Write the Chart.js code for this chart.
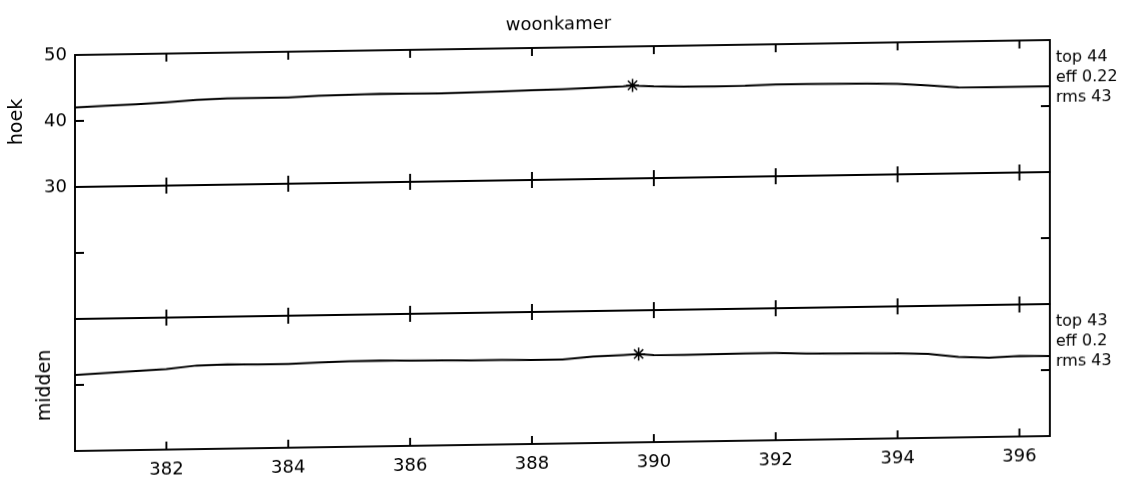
<!DOCTYPE html>
<html>
<head>
<meta charset="utf-8">
<script src="https://cdn.jsdelivr.net/npm/chart.js@4/dist/chart.umd.min.js"></script>
<style>
  html, body { margin: 0; padding: 0; background: #fff; overflow: hidden; }
  /* the plotter sheet sits slightly askew */
  #wrap { width: 1124px; height: 479px; transform: skewY(-0.88deg); transform-origin: 75px 0; }
</style>
</head>
<body>
<div id="wrap"><canvas id="woonkamer" width="1124" height="479"></canvas></div>
<script>
var FONT = 'DejaVu Sans';

var times = [
  380.5, 381, 381.5, 382, 382.5, 383, 383.5, 384, 384.5, 385, 385.5,
  386, 386.5, 387, 387.5, 388, 388.5, 389, 389.5, 389.65, 389.75, 390,
  390.5, 391, 391.5, 392, 392.5, 393, 393.5, 394, 394.5, 395, 395.5,
  396, 396.5
];
var hoekValues = [
  42.06, 42.24, 42.37, 42.6, 42.9, 43.08, 43.08, 43.08, 43.25, 43.33, 43.42,
  43.38, 43.34, 43.42, 43.5, 43.6, 43.66, 43.82, 43.98, 44.1, 44.02, 43.9,
  43.79, 43.76, 43.77, 43.92, 43.92, 43.86, 43.82, 43.71, 43.42, 43.04, 43.0,
  43.0, 42.98
];
var middenValues = [
  41.5, 41.74, 41.98, 42.2, 42.67, 42.76, 42.7, 42.68, 42.83, 42.95, 42.98,
  42.9, 42.86, 42.82, 42.79, 42.73, 42.73, 43.1, 43.27, 43.33, 43.38, 43.2,
  43.15, 43.17, 43.21, 43.21, 43.06, 43.0, 42.95, 42.88, 42.71, 42.18, 42.0,
  42.2, 42.12
];
var hoekEff = 0.22;
var middenEff = 0.2;

var xTicks = [382, 384, 386, 388, 390, 392, 394, 396];
var hoekTicks = [30, 40, 50];
var middenTicks = [30, 40, 50];
var midTicks = [0, 1, 2];

function toPoints(values) {
  return times.map(function (t, i) { return { x: t, y: values[i] }; });
}

function peakPoint(values) {
  var best = 0;
  values.forEach(function (v, i) { if (v > values[best]) best = i; });
  return [{ x: times[best], y: values[best] }];
}

function rms(values) {
  var sum = values.reduce(function (s, v) { return s + v * v; }, 0);
  return Math.sqrt(sum / values.length);
}

function notesFor(values, eff) {
  return [
    'top ' + Math.round(Math.max.apply(null, values)),
    'eff ' + eff,
    'rms ' + Math.round(rms(values))
  ];
}

function fixedTicks(list) {
  return function (scale) {
    scale.ticks = list.map(function (v) { return { value: v }; });
  };
}

function panelScale(min, max, list, extra) {
  var s = {
    type: 'linear',
    position: 'left',
    stack: 'panels',
    stackWeight: 1,
    min: min,
    max: max,
    afterBuildTicks: fixedTicks(list),
    afterFit: function (scale) { scale.width = 75; },
    grid: { display: false, drawTicks: false },
    border: { display: false },
    ticks: { display: false }
  };
  return Object.assign(s, extra || {});
}

// boxes, inward tick marks and the stats next to each panel
var panelFrame = {
  id: 'panelFrame',
  afterDatasetsDraw: function (chart) {
    var ctx = chart.ctx;
    var area = chart.chartArea;
    var x = chart.scales.x;
    var notes = { hoek: notesFor(hoekValues, hoekEff), midden: notesFor(middenValues, middenEff) };
    ctx.save();
    ctx.strokeStyle = '#000';
    ctx.lineWidth = 1.9;
    ['hoek', 'mid', 'midden'].forEach(function (id) {
      var s = chart.scales[id];
      ctx.strokeRect(area.left, s.top, area.right - area.left, s.bottom - s.top);
      ctx.beginPath();
      x.ticks.forEach(function (t) {
        var px = x.getPixelForValue(t.value);
        ctx.moveTo(px, s.top); ctx.lineTo(px, s.top + 8);
        ctx.moveTo(px, s.bottom); ctx.lineTo(px, s.bottom - 8);
      });
      s.ticks.forEach(function (t) {
        if (t.value === s.min || t.value === s.max) return;
        var py = s.getPixelForValue(t.value);
        ctx.moveTo(area.left, py); ctx.lineTo(area.left + 9, py);
        ctx.moveTo(area.right, py); ctx.lineTo(area.right - 9, py);
      });
      ctx.stroke();
      if (notes[id]) {
        ctx.fillStyle = '#000';
        ctx.font = '16px "' + FONT + '"';
        ctx.textAlign = 'left';
        ctx.textBaseline = 'middle';
        notes[id].forEach(function (line, i) {
          ctx.fillText(line, area.right + 6, s.top + 18 + i * 20);
        });
      }
    });
    ctx.restore();
  }
};

function lineSet(values, axis) {
  return {
    data: toPoints(values),
    yAxisID: axis,
    borderColor: '#000',
    borderWidth: 2,
    pointRadius: 0,
    tension: 0,
    fill: false
  };
}

function peakSet(values, axis) {
  return {
    data: peakPoint(values),
    yAxisID: axis,
    showLine: false,
    pointStyle: 'star',
    pointRadius: 6.5,
    borderColor: '#000',
    borderWidth: 1.5,
    backgroundColor: '#000'
  };
}

function drawWoonkamer(ctx) {
  new Chart(ctx, {
    type: 'line',
    data: {
      datasets: [
        lineSet(hoekValues, 'hoek'),
        peakSet(hoekValues, 'hoek'),
        lineSet(middenValues, 'midden'),
        peakSet(middenValues, 'midden')
      ]
    },
    options: {
      responsive: false,
      animation: false,
      layout: { padding: { left: 0, right: 7, top: 0, bottom: 0 } },
      plugins: {
        legend: { display: false },
        tooltip: { enabled: false },
        title: {
          display: true,
          text: 'woonkamer',
          color: '#000',
          font: { family: FONT, size: 18, weight: 'normal' },
          padding: { top: 22, bottom: 11.4 }
        }
      },
      scales: {
        x: {
          type: 'linear',
          position: 'bottom',
          min: 380.5,
          max: 396.5,
          afterBuildTicks: fixedTicks(xTicks),
          afterFit: function (scale) { scale.height = 28; },
          grid: { display: false, drawTicks: false },
          border: { display: false },
          ticks: { color: '#000', font: { family: FONT, size: 18 }, padding: 10, maxRotation: 0, autoSkip: false }
        },
        midden: panelScale(30, 50, middenTicks, {
          title: { display: true, text: 'midden', color: '#000', font: { family: FONT, size: 19 }, padding: { top: 34, bottom: 0 } }
        }),
        mid: panelScale(0, 2, midTicks),
        hoek: panelScale(30, 50, hoekTicks, {
          ticks: { display: true, color: '#000', font: { family: FONT, size: 18 }, padding: 8 },
          title: { display: true, text: 'hoek', color: '#000', font: { family: FONT, size: 19 }, padding: { top: 6, bottom: 0 } }
        }),
        notes: {
          type: 'linear',
          position: 'right',
          afterFit: function (scale) { scale.width = 67; },
          grid: { display: false, drawTicks: false },
          border: { display: false },
          ticks: { display: false }
        }
      }
    },
    plugins: [panelFrame]
  });
}

drawWoonkamer(document.getElementById('woonkamer').getContext('2d'));
</script>
</body>
</html>
